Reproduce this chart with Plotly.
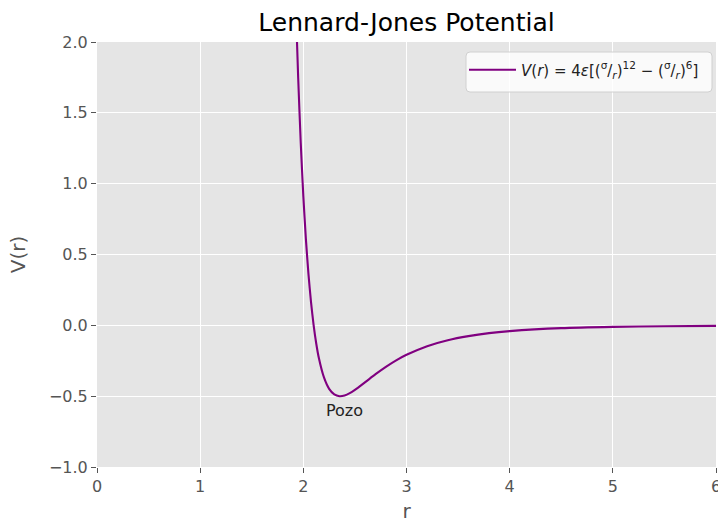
import plotly.graph_objects as go

# Values
r_vals = [1.93, 1.95, 1.975, 2.00, 2.025, 2.05, 2.075, 2.10, 2.125, 2.15, 2.20, 2.25,
          2.30, 2.35, 2.40, 2.45, 2.50, 2.60, 2.70, 2.80, 2.90, 3.00, 3.20, 3.40,
          3.60, 3.80, 4.00, 4.50, 5.00, 5.50, 6.00]
v_vals = [2.19, 1.747, 1.287, 0.912, 0.607, 0.360, 0.160, 0.0, -0.128, -0.229, -0.368, -0.448,
          -0.487, -0.500, -0.495, -0.479, -0.456, -0.401, -0.345, -0.293, -0.247, -0.208, -0.147, -0.105,
          -0.076, -0.055, -0.041, -0.020, -0.011, -0.006, -0.004]

x_ticks = [0, 1, 2, 3, 4, 5, 6]
y_ticks = [-1.0, -0.5, 0.0, 0.5, 1.0, 1.5, 2.0]

title_text = "Lennard-Jones Potential"
legend_label = ("<i>V</i>(<i>r</i>) = 4<i>ε</i>[(<sup>σ</sup>/<sub><i>r</i></sub>)<sup>12</sup>"
                " − (<sup>σ</sup>/<sub><i>r</i></sub>)<sup>6</sup>]")
annot_text = "Pozo"
annot_pos = (2.2, -0.6)

FONT = "DejaVu Sans"
GRAY = "#555555"

W, H = 718, 523
ML, MR, MT, MB = 97, 2, 42, 56
PW, PH = W - ML - MR, H - MT - MB


def px_to_paper(x, y):
    return (x - ML) / PW, (H - MB - y) / PH


fig = go.Figure()
fig.add_trace(go.Scatter(
    x=r_vals, y=v_vals, mode="lines", name=legend_label,
    line=dict(color="#800080", width=2.1, shape="spline", smoothing=0.6),
))

fig.add_annotation(x=annot_pos[0], y=annot_pos[1], text=annot_text, showarrow=False,
                   xanchor="left", yanchor="middle",
                   font=dict(family=FONT, size=16, color="#222222"))

# rounded legend frame (like matplotlib's fancybox)
bx0, by0 = px_to_paper(466, 92)
bx1, by1 = px_to_paper(712, 52)
rx, ry = 4 / PW, 4 / PH
path = (f"M{bx0+rx},{by0} L{bx1-rx},{by0} Q{bx1},{by0} {bx1},{by0+ry} "
        f"L{bx1},{by1-ry} Q{bx1},{by1} {bx1-rx},{by1} "
        f"L{bx0+rx},{by1} Q{bx0},{by1} {bx0},{by1-ry} "
        f"L{bx0},{by0+ry} Q{bx0},{by0} {bx0+rx},{by0} Z")
fig.add_shape(type="path", path=path, xref="paper", yref="paper", layer="above",
              fillcolor="rgba(255,255,255,0.8)", line=dict(color="#D0D0D0", width=1))

axis_common = dict(
    showgrid=True, gridcolor="white", gridwidth=1.3,
    zeroline=False, showline=False,
    ticks="outside", ticklen=5, tickwidth=1.2, tickcolor=GRAY,
    tickfont=dict(family=FONT, size=16, color=GRAY),
    ticklabeloverflow="allow", automargin=False,
)

lx, ly = px_to_paper(464, 70)

fig.update_layout(
    width=W, height=H,
    margin=dict(l=ML, r=MR, t=MT, b=MB, pad=0, autoexpand=False),
    paper_bgcolor="white", plot_bgcolor="#E5E5E5",
    title=dict(text=title_text, x=0.5, xanchor="center", xref="paper",
               y=1 - 22 / H, yanchor="middle", yref="container",
               font=dict(family=FONT, size=25, color="black")),
    xaxis=dict(range=[0, 6], tickvals=x_ticks, ticktext=[str(t) for t in x_ticks],
               title=dict(text="r", font=dict(family=FONT, size=20, color=GRAY), standoff=11),
               **axis_common),
    yaxis=dict(range=[-1, 2], tickvals=y_ticks, tickformat=".1f",
               title=dict(text="V(r)", font=dict(family=FONT, size=20, color=GRAY), standoff=17),
               **axis_common),
    legend=dict(x=lx, y=ly, xanchor="left", yanchor="middle", itemwidth=47,
                bgcolor="rgba(0,0,0,0)", borderwidth=0,
                font=dict(family=FONT, size=15, color="#222222")),
    showlegend=True,
)

fig.write_html(
    "out.html",
    config={"displayModeBar": False},
    post_script="document.body.style.margin='0';document.body.style.overflow='hidden';",
)
